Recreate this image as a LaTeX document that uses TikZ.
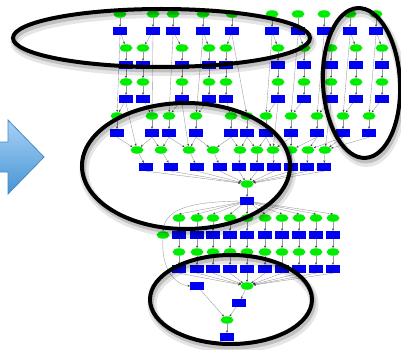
\documentclass[tikz,border=0pt]{standalone}
\usetikzlibrary{arrows.meta,shapes.geometric}
\definecolor{ggreen}{RGB}{0,236,0}
\definecolor{bblue}{RGB}{0,0,242}
\definecolor{edgecol}{RGB}{150,150,150}
\definecolor{arrtop}{RGB}{168,210,246}
\definecolor{arrbot}{RGB}{70,148,212}
\definecolor{arrline}{RGB}{72,138,196}
\tikzset{
  gn/.style={ellipse, fill=ggreen, inner sep=0pt, minimum width=13pt, minimum height=7.5pt},
  bn/.style={rectangle, fill=bblue, inner sep=0pt, minimum width=13.5pt, minimum height=8pt},
  ed/.style={draw=edgecol, line width=0.35pt, -{Stealth[length=2.4pt,width=2pt,color=black!75]}},
  ring/.style={ellipse, draw=black, line width=4pt, inner sep=0pt},
  ringsh/.style={ellipse, draw=black, opacity=0.10, line width=9pt, inner sep=0pt},
  ringshb/.style={ellipse, draw=black, opacity=0.16, line width=5pt, inner sep=0pt},
}
\newcommand{\myring}[6]{%
  \node[ringsh, minimum width=#4pt, minimum height=#5pt, rotate=#6] (#1s) at ({#2+2},{#3+4.5}) {};
  \node[ringshb, minimum width=#4pt, minimum height=#5pt, rotate=#6] (#1t) at ({#2+1.5},{#3+3}) {};
  \node[ring, minimum width=#4pt, minimum height=#5pt, rotate=#6] (#1) at (#2,#3) {};
}
\begin{document}
\begin{tikzpicture}[x=1pt,y=-1pt]
\fill[white] (0,0) rectangle (401,350);
\useasboundingbox (0,0) rectangle (401,350);
% block arrow
\draw[arrline, line width=0.8pt, top color=arrtop, bottom color=arrbot]
  (-3,142) -- (8,142) -- (8,120) -- (44,157) -- (8,194) -- (8,172) -- (-3,172) -- cycle;
% nodes: top block
\foreach \x [count=\i] in {120,153,173,203,232,272,298,324,350,376} {
  \node[gn] (a\i) at (\x,14) {};
  \node[bn] (b\i) at (\x,31) {};
}
\foreach \x [count=\i] in {126,143,182,209,226,278,304,331,356,382} {
  \node[gn] (c\i) at (\x,48) {};
  \node[bn] (d\i) at (\x,65) {};
  \node[gn] (e\i) at (\x,82) {};
  \node[bn] (f\i) at (\x,99) {};
}
\foreach \x [count=\i] in {117,152,169,196,231,247,266,291,317,343,369} {
  \node[gn] (ga\i) at (\x,116) {};
  \node[bn] (ha\i) at (\x,133) {};
}
\foreach \x/\y [count=\i] in {137/146,161/171,189/197,213/220,240/239,257/257,273/274,291/291,308/307,325/324} {
  \node[gn] (gb\i) at (\x,150) {};
  \node[bn] (hb\i) at (\y,167) {};
}
\node[gn] (m1) at (247,184) {};
\node[bn] (m2) at (247,201) {};
\foreach \x [count=\i] in {179,197,213,230,247,265,282,299,316,333} {
  \node[gn] (gc\i) at (\x,218) {};
  \node[bn] (hc\i) at (\x,235) {};
  \node[gn] (gd\i) at (\x,252) {};
  \node[bn] (hd\i) at (\x,269) {};
}
\node[gn] (xg) at (163,235) {};
\node[bn] (p1) at (197,286) {};
\node[gn] (p2) at (247,286) {};
\node[bn] (p3) at (239,303) {};
\node[gn] (p4) at (227,320) {};
\node[bn] (p5) at (227,337) {};
% edges
\foreach \i in {1,...,10} {
  \draw[ed] (a\i) -- (b\i);
  \draw[ed] (b\i) -- (c\i);
  \draw[ed] (c\i) -- (d\i);
  \draw[ed] (d\i) -- (e\i);
  \draw[ed] (e\i) -- (f\i);
}
\foreach \i/\j in {1/1,2/2,3/3,4/4,5/6,6/7,7/8,8/9,9/10,10/11}
  \draw[ed] (b\i.south) -- (ga\j);
\foreach \i/\j in {1/1,2/2,3/3,4/4,5/5,6/7,7/8,8/9,9/10,10/11}
  \draw[ed] (f\i) -- (ga\j);
\foreach \i/\j in {1/1,3/3,6/7,8/10}
  \draw[ed] (f\i.south) -- (gb\j);
\foreach \i in {1,...,11}
  \draw[ed] (ga\i) -- (ha\i);
\foreach \i/\j in {1/1,2/1,2/2,3/2,3/3,4/3,4/4,5/4,5/5,6/5,6/6,7/6,7/7,8/7,8/8,9/8,9/9,10/9,10/10,11/10}
  \draw[ed] (ha\i.south) -- (gb\j);
\foreach \i in {1,...,10} {
  \draw[ed] (gb\i) -- (hb\i);
  \draw[ed] (hb\i.south) -- (m1);
}
\draw[ed] (m1) -- (m2);
\foreach \i in {1,...,10} {
  \draw[ed] (m2) -- (gc\i.north);
  \draw[ed] (gc\i) -- (hc\i);
  \draw[ed] (hc\i) -- (gd\i);
  \draw[ed] (gd\i) -- (hd\i);
  \draw[ed] (hd\i.south) -- (p2);
}
\draw[ed] (m2.west) .. controls (205,202) and (166,204) .. (xg.north);
\draw[ed] (xg.south) .. controls (161,265) and (172,284) .. (p1.west);
\draw[ed] (p1) -- (p4);
\draw[ed] (p2) -- (p3);
\draw[ed] (p3) -- (p4);
\draw[ed] (p4) -- (p5);
% highlight rings
\myring{r1}{161.5}{38}{297}{58}{0}
\myring{r2}{361.5}{83}{77}{150}{3}
\myring{r3}{186}{166}{208}{126}{0}
\myring{r4}{231}{299.5}{162}{89}{0}
\end{tikzpicture}
\end{document}
